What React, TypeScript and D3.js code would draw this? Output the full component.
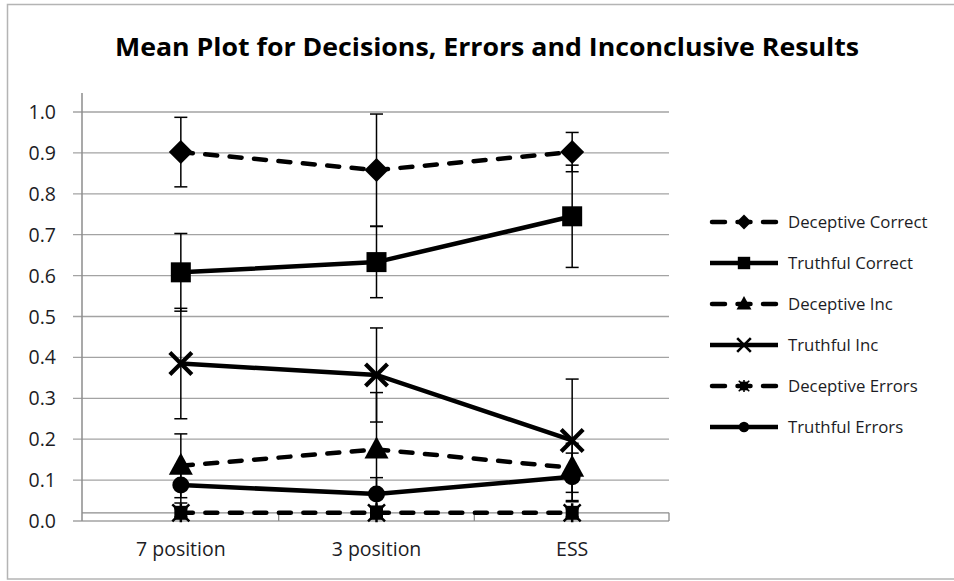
import React from "react";
import * as d3 from "d3";

const categories = ["7 position", "3 position", "ESS"];
const yTicks = [0, 0.1, 0.2, 0.3, 0.4, 0.5, 0.6, 0.7, 0.8, 0.9, 1.0];

const deceptiveCorrect = [0.902, 0.858, 0.902];
const deceptiveCorrectErr = [0.085, 0.137, 0.048];
const truthfulCorrect = [0.608, 0.633, 0.745];
const truthfulCorrectErr = [0.095, 0.087, 0.125];
const deceptiveInc = [0.135, 0.175, 0.13];
const deceptiveIncErr = [0.078, 0.139, 0.06];
const truthfulInc = [0.385, 0.357, 0.197];
const truthfulIncErr = [0.135, 0.115, 0.15];
const deceptiveErrors = [0.02, 0.02, 0.02];
const deceptiveErrorsErr = [0.01, 0.01, 0.01];
const truthfulErrors = [0.088, 0.066, 0.108];
const truthfulErrorsErr = [0.044, 0.04, 0.058];

type Marker = "diamond" | "square" | "triangle" | "x" | "star" | "circle";

const series: { name: string; values: number[]; err: number[]; dashed: boolean; marker: Marker }[] = [
  { name: "Deceptive Correct", values: deceptiveCorrect, err: deceptiveCorrectErr, dashed: true, marker: "diamond" },
  { name: "Truthful Correct", values: truthfulCorrect, err: truthfulCorrectErr, dashed: false, marker: "square" },
  { name: "Deceptive Inc", values: deceptiveInc, err: deceptiveIncErr, dashed: true, marker: "triangle" },
  { name: "Truthful Inc", values: truthfulInc, err: truthfulIncErr, dashed: false, marker: "x" },
  { name: "Deceptive Errors", values: deceptiveErrors, err: deceptiveErrorsErr, dashed: true, marker: "star" },
  { name: "Truthful Errors", values: truthfulErrors, err: truthfulErrorsErr, dashed: false, marker: "circle" },
];

const W = 954;
const H = 581;
const plot = { left: 82, right: 669, top: 112, bottom: 521 };
const font = "'Open Sans', sans-serif";
const textColor = "#1c1c24";

const MarkerShape = ({ type, x, y, s }: { type: Marker; x: number; y: number; s: number }) => {
  switch (type) {
    case "diamond":
      return <path d={`M${x},${y - 12 * s}L${x + 12 * s},${y}L${x},${y + 12 * s}L${x - 12 * s},${y}Z`} fill="#000" />;
    case "square":
      return <rect x={x - 10 * s} y={y - 10 * s} width={20 * s} height={20 * s} fill="#000" />;
    case "triangle":
      return <path d={`M${x},${y - 13 * s}L${x + 12 * s},${y + 9 * s}L${x - 12 * s},${y + 9 * s}Z`} fill="#000" />;
    case "x":
      return (
        <path
          d={`M${x - 11 * s},${y - 11 * s}L${x + 11 * s},${y + 11 * s}M${x + 11 * s},${y - 11 * s}L${x - 11 * s},${y + 11 * s}`}
          stroke="#000"
          strokeWidth={4.2 * s}
        />
      );
    case "star":
      return (
        <g>
          <rect x={x - 6.5 * s} y={y - 7 * s} width={13 * s} height={14 * s} fill="#000" />
          <path
            d={`M${x - 8.5 * s},${y - 8.5 * s}L${x + 8.5 * s},${y + 8.5 * s}M${x + 8.5 * s},${y - 8.5 * s}L${x - 8.5 * s},${y + 8.5 * s}M${x},${y - 9.5 * s}L${x},${y + 9.5 * s}`}
            stroke="#000"
            strokeWidth={2.5 * s}
          />
        </g>
      );
    case "circle":
      return <circle cx={x} cy={y} r={8.5 * s} fill="#000" />;
  }
};

export default function App() {
  const x = d3.scaleBand<string>().domain(categories).range([plot.left + 1, plot.right + 1]).padding(0);
  const cx = (c: string) => (x(c) ?? 0) + x.bandwidth() / 2;
  const y = d3.scaleLinear().domain([0, 1]).range([plot.bottom, plot.top]);
  const line = d3
    .line<number>()
    .x((_, i) => cx(categories[i]))
    .y((d) => y(d));

  const legendY0 = 222;
  const legendStep = 41;

  return (
    <svg width={W} height={H} style={{ position: "absolute", left: 0, top: 0, background: "#fff" }}>
      {/* outer frame */}
      <rect x={7.5} y={4.5} width={960} height={574.5} fill="#fff" stroke="#b4b4b4" strokeWidth={1.5} />

      <text
        x={487}
        y={56}
        textAnchor="middle"
        fontFamily={font}
        fontWeight={700}
        fontSize={25}
        textLength={744}
        lengthAdjust="spacingAndGlyphs"
        fill="#000"
      >
        Mean Plot for Decisions, Errors and Inconclusive Results
      </text>

      {/* gridlines */}
      {yTicks.map((t) => (
        <line key={t} x1={plot.left - 9} x2={plot.right} y1={y(t)} y2={y(t)} stroke="#a3a3a3" strokeWidth={1.3} />
      ))}
      {/* horizontal axis at 0.02 */}
      <line x1={plot.left} x2={plot.right} y1={y(0.02)} y2={y(0.02)} stroke="#8c8c8c" strokeWidth={1.3} />
      <line x1={plot.right} x2={plot.right} y1={y(0.02)} y2={y(0)} stroke="#8c8c8c" strokeWidth={1.3} />
      {categories.slice(1).map((c) => (
        <line key={c} x1={x(c)} x2={x(c)} y1={y(0.02)} y2={y(0)} stroke="#8c8c8c" strokeWidth={1.3} />
      ))}
      {/* y axis */}
      <line x1={plot.left} x2={plot.left} y1={93} y2={plot.bottom} stroke="#8c8c8c" strokeWidth={1.5} />

      {yTicks.map((t) => (
        <text key={t} x={56} y={y(t) + 7} textAnchor="end" fontFamily={font} fontSize={19.5} fill={textColor}>
          {t.toFixed(1)}
        </text>
      ))}
      {categories.map((c) => (
        <text key={c} x={cx(c)} y={556} textAnchor="middle" fontFamily={font} fontSize={19.5} fill={textColor}>
          {c}
        </text>
      ))}

      {/* error bars */}
      {series.map((s) =>
        s.values.map((v, i) => {
          const px = cx(categories[i]);
          const top = y(v + s.err[i]);
          const bot = y(v - s.err[i]);
          return (
            <g key={s.name + i} stroke="#000" strokeWidth={1.5}>
              <line x1={px} x2={px} y1={top} y2={bot} />
              <line x1={px - 6.5} x2={px + 6.5} y1={top} y2={top} />
              <line x1={px - 6.5} x2={px + 6.5} y1={bot} y2={bot} />
            </g>
          );
        })
      )}

      {/* lines */}
      {series.map((s) => (
        <path
          key={s.name}
          d={line(s.values) ?? ""}
          fill="none"
          stroke="#000"
          strokeWidth={4.5}
          strokeDasharray={s.dashed ? "12 12.5" : undefined}
          strokeLinecap={s.dashed ? "round" : "butt"}
        />
      ))}

      {/* markers */}
      {series.map((s) =>
        s.values.map((v, i) => <MarkerShape key={s.name + i} type={s.marker} x={cx(categories[i])} y={y(v)} s={1} />)
      )}

      {/* legend */}
      {series.map((s, k) => {
        const ly = legendY0 + k * legendStep;
        return (
          <g key={s.name}>
            <line
              x1={s.dashed ? 712 : 710}
              x2={s.dashed ? 776 : 778}
              y1={ly}
              y2={ly}
              stroke="#000"
              strokeWidth={4.5}
              strokeDasharray={s.dashed ? "13 12.5" : undefined}
              strokeLinecap={s.dashed ? "round" : "butt"}
            />
            <MarkerShape type={s.marker} x={744} y={ly} s={0.62} />
            <text x={788} y={ly + 5.5} fontFamily={font} fontSize={16.8} fill={textColor}>
              {s.name}
            </text>
          </g>
        );
      })}
    </svg>
  );
}
